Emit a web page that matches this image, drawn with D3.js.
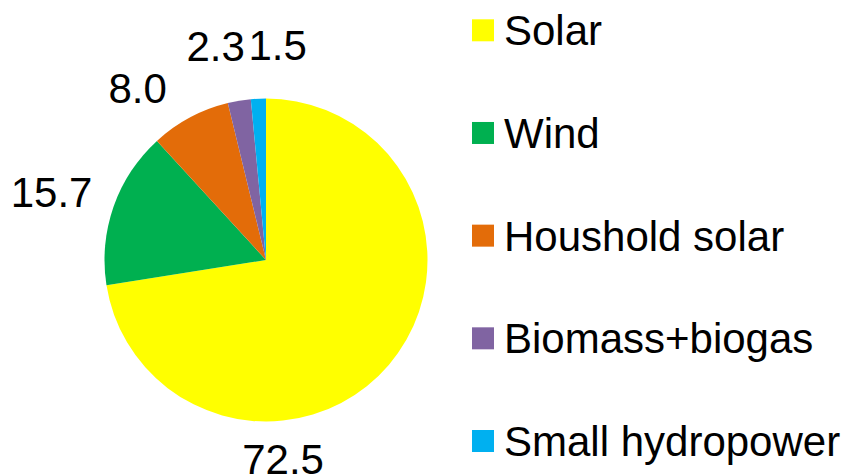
<!DOCTYPE html>
<html>
<head>
<meta charset="utf-8">
<script src="https://cdn.jsdelivr.net/npm/d3@7"></script>
<style>
  html, body { margin: 0; padding: 0; background: #fff; }
  svg { display: block; font-family: Arial, "Liberation Sans", sans-serif; }
</style>
</head>
<body>
<svg id="chart" width="848" height="476"></svg>
<script>
// ---- data ----
const categories = ["Solar", "Wind", "Houshold solar", "Biomass+biogas", "Small hydropower"];
const values = [72.5, 15.7, 8.0, 2.3, 1.5];
const valueLabels = ["72.5", "15.7", "8.0", "2.3", "1.5"];
const colors = ["#FFFF00", "#00B050", "#E36C09", "#8064A2", "#00B0F0"];

// ---- layout (label placement, not data) ----
const labelAngleNudge = [44.6, -1.6, -8.6, -3.7, 5.8]; // degrees
const labelRadius = [200, 225, 215, 220, 215];

const svg = d3.select("#chart");
const cx = 266, cy = 260, r = 161.5;
const fontSize = 42;

const pie = d3.pie().sort(null).value(d => d)
  .startAngle(0).endAngle(2 * Math.PI);
const arcs = pie(values);
const arc = d3.arc().innerRadius(0).outerRadius(r);

const g = svg.append("g").attr("transform", `translate(${cx},${cy})`);
g.selectAll("path.slice").data(arcs).enter().append("path")
  .attr("class", "slice")
  .attr("d", arc)
  .attr("fill", (d, i) => colors[i]);

// value labels
g.selectAll("text.val").data(arcs).enter().append("text")
  .attr("class", "val")
  .attr("text-anchor", "middle")
  .attr("font-size", fontSize)
  .attr("fill", "#000")
  .attr("x", (d, i) => {
    const a = (d.startAngle + d.endAngle) / 2 + labelAngleNudge[i] * Math.PI / 180;
    return labelRadius[i] * Math.sin(a);
  })
  .attr("y", (d, i) => {
    const a = (d.startAngle + d.endAngle) / 2 + labelAngleNudge[i] * Math.PI / 180;
    return -labelRadius[i] * Math.cos(a) + fontSize * 0.358;
  })
  .text((d, i) => valueLabels[i]);

// legend
const legendY = d3.scalePoint().domain(categories).range([30.3, 441]);
const lg = svg.append("g");
const items = lg.selectAll("g.item").data(categories).enter().append("g")
  .attr("class", "item")
  .attr("transform", d => `translate(472,${legendY(d)})`);
items.append("rect")
  .attr("x", 0).attr("y", -11).attr("width", 22).attr("height", 22)
  .attr("fill", (d, i) => colors[i]);
items.append("text")
  .attr("x", 32).attr("y", fontSize * 0.358)
  .attr("font-size", fontSize)
  .attr("fill", "#000")
  .text(d => d);
</script>
</body>
</html>
